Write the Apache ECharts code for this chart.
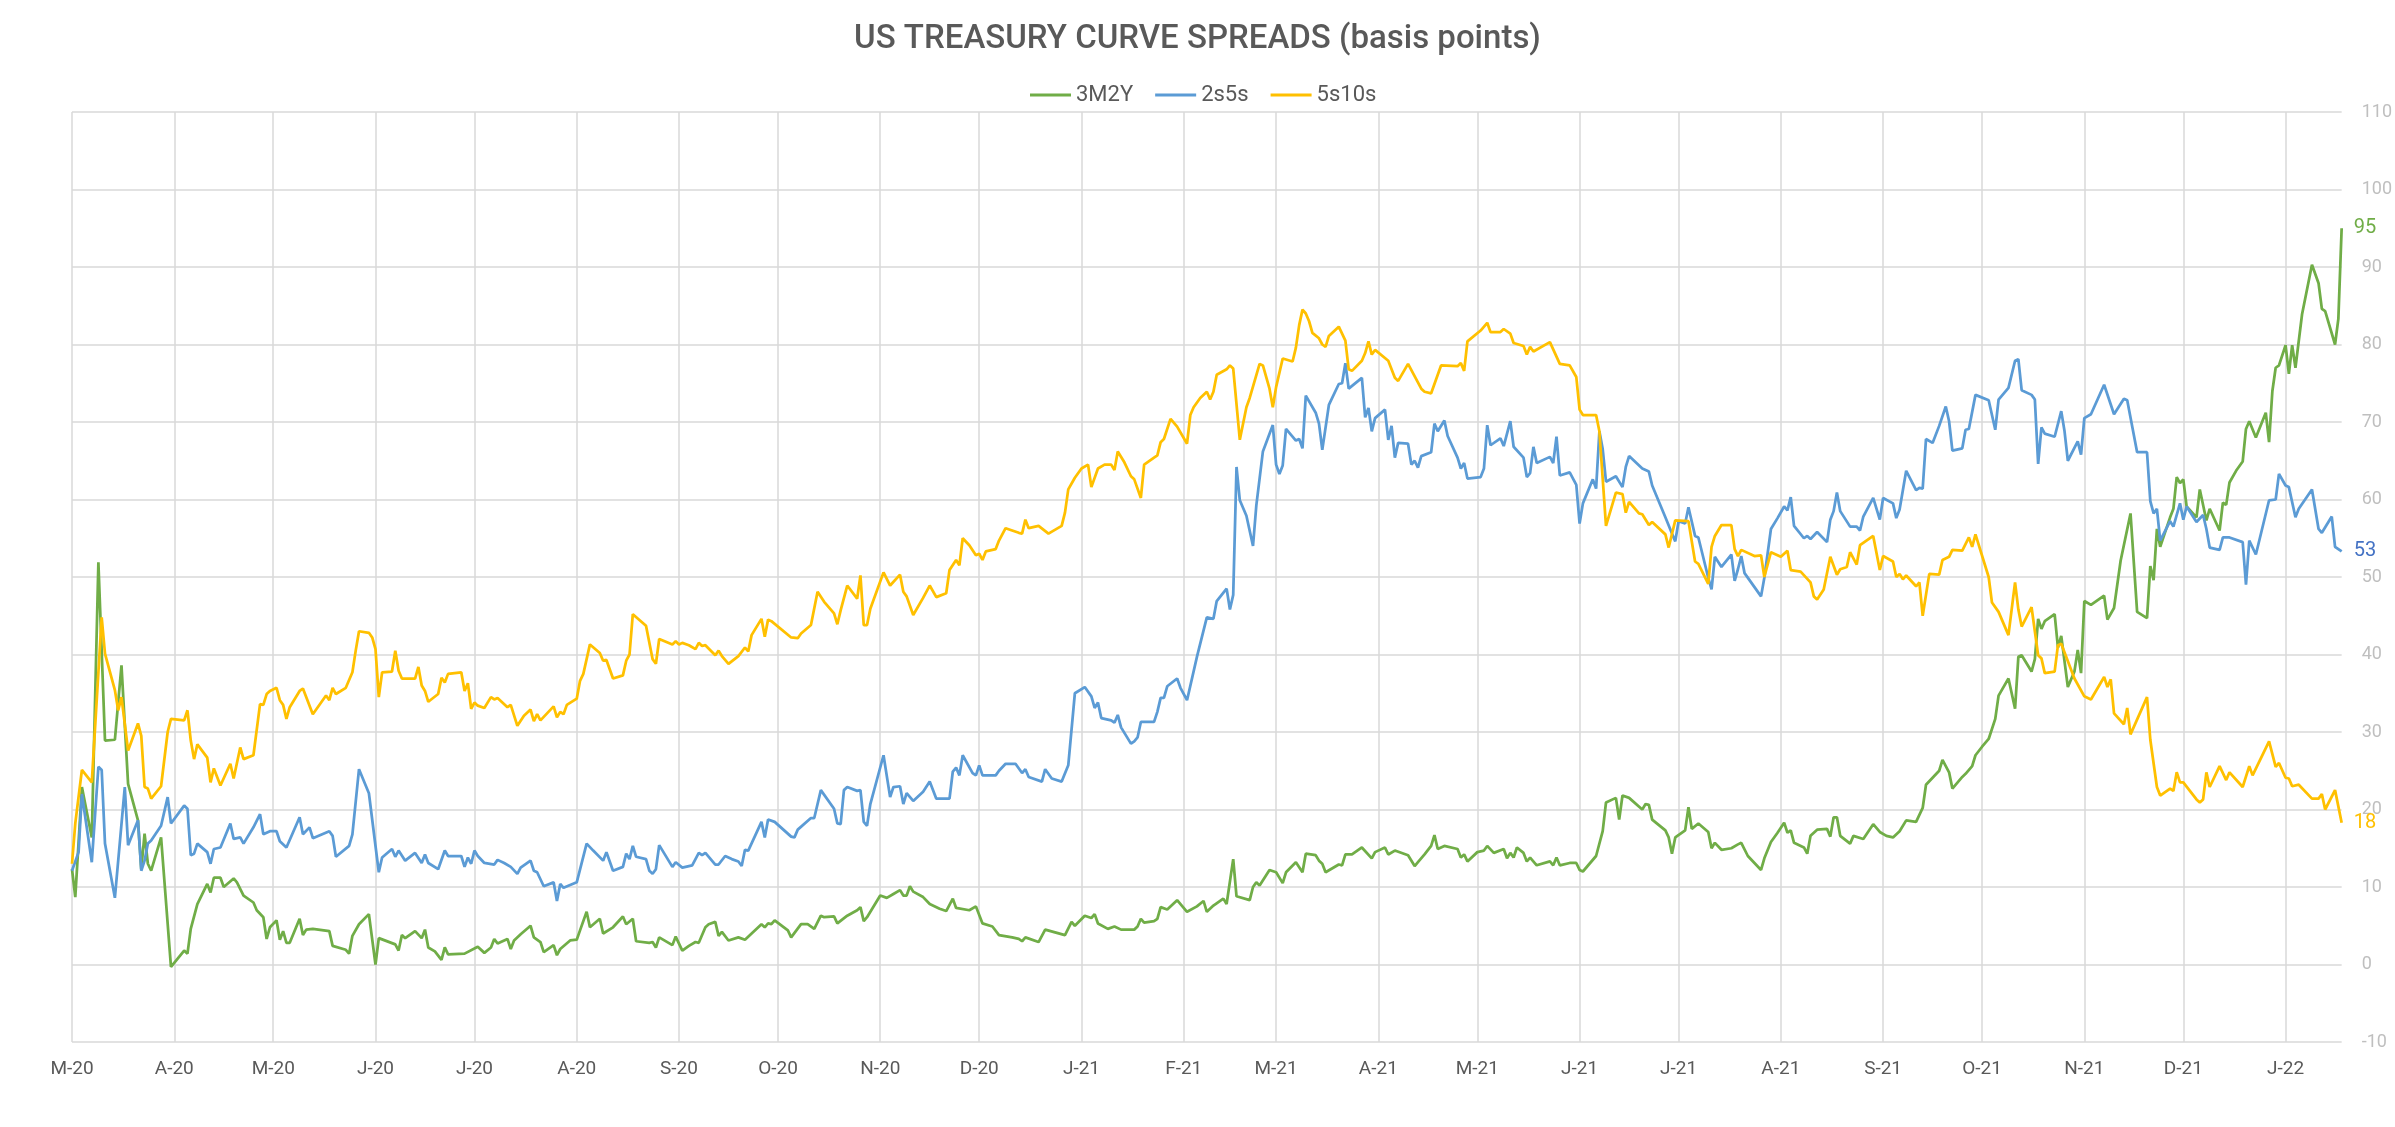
<!DOCTYPE html>
<html>
<head>
<meta charset="utf-8">
<script src="https://cdn.jsdelivr.net/npm/echarts@6/dist/echarts.min.js"></script>
<style>
html,body{margin:0;padding:0;background:#fff;}
#chart{width:2395px;height:1127px;}
</style>
</head>
<body>
<div id="chart"></div>
<script>
const axisStart = "2020-03-01";
const axisEnd = "2022-01-18";
const monthLetters = ["J","F","M","A","M","J","J","A","S","O","N","D"];
const yTicks = {min: -10, max: 110, interval: 10};
const seriesNames = ["3M2Y", "2s5s", "5s10s"];

const data3M2Y = [
["2020-03-01",12.3],["2020-03-02",8.7],["2020-03-04",22.9],["2020-03-07",16.4],["2020-03-09",51.9],["2020-03-11",28.9],["2020-03-14",29.0],["2020-03-16",38.6],["2020-03-18",23.3],["2020-03-21",18.6],["2020-03-22",12.3],["2020-03-23",16.9],["2020-03-24",13.0],["2020-03-25",12.1],["2020-03-28",16.4],["2020-03-31",-0.3],
["2020-04-04",1.8],["2020-04-05",1.4],["2020-04-06",4.6],["2020-04-08",7.8],["2020-04-11",10.4],["2020-04-12",9.3],["2020-04-13",11.2],["2020-04-15",11.2],["2020-04-16",10.0],["2020-04-19",11.1],["2020-04-20",10.6],["2020-04-22",8.9],["2020-04-25",8.0],["2020-04-26",7.0],["2020-04-28",6.1],["2020-04-29",3.3],["2020-04-30",4.8],
["2020-05-02",5.7],["2020-05-03",3.2],["2020-05-04",4.3],["2020-05-05",2.8],["2020-05-06",2.8],["2020-05-09",5.9],["2020-05-10",3.8],["2020-05-11",4.5],["2020-05-13",4.6],["2020-05-18",4.3],["2020-05-19",2.4],["2020-05-23",1.9],["2020-05-24",1.4],["2020-05-25",3.7],["2020-05-27",5.2],["2020-05-30",6.5],
["2020-06-01",0.0],["2020-06-02",3.4],["2020-06-07",2.6],["2020-06-08",1.8],["2020-06-09",3.8],["2020-06-10",3.4],["2020-06-13",4.3],["2020-06-15",3.4],["2020-06-16",4.5],["2020-06-17",2.2],["2020-06-19",1.7],["2020-06-21",0.6],["2020-06-22",2.2],["2020-06-23",1.3],["2020-06-28",1.4],
["2020-07-02",2.3],["2020-07-04",1.5],["2020-07-06",2.2],["2020-07-07",3.3],["2020-07-08",2.7],["2020-07-11",3.3],["2020-07-12",2.0],["2020-07-13",3.1],["2020-07-15",3.9],["2020-07-18",5.0],["2020-07-19",3.5],["2020-07-21",2.9],["2020-07-22",1.6],["2020-07-25",2.5],["2020-07-26",1.2],["2020-07-27",2.0],["2020-07-30",3.1],
["2020-08-01",3.2],["2020-08-02",4.4],["2020-08-04",6.8],["2020-08-05",4.8],["2020-08-08",5.9],["2020-08-09",4.0],["2020-08-12",4.8],["2020-08-15",6.2],["2020-08-16",5.2],["2020-08-18",5.9],["2020-08-19",3.0],["2020-08-23",2.8],["2020-08-24",2.9],["2020-08-25",2.2],["2020-08-26",3.5],["2020-08-30",2.5],["2020-08-31",3.6],
["2020-09-02",1.8],["2020-09-04",2.4],["2020-09-06",2.9],["2020-09-07",2.8],["2020-09-09",4.8],["2020-09-10",5.2],["2020-09-12",5.5],["2020-09-13",3.7],["2020-09-14",4.2],["2020-09-16",3.1],["2020-09-19",3.5],["2020-09-21",3.2],["2020-09-26",5.2],["2020-09-27",4.8],["2020-09-28",5.3],["2020-09-29",5.2],["2020-09-30",5.7],
["2020-10-04",4.4],["2020-10-05",3.5],["2020-10-08",5.2],["2020-10-10",5.2],["2020-10-12",4.6],["2020-10-14",6.3],["2020-10-15",6.1],["2020-10-18",6.2],["2020-10-19",5.3],["2020-10-22",6.3],["2020-10-25",7.0],["2020-10-26",7.4],["2020-10-27",5.6],["2020-10-28",6.1],
["2020-11-01",8.9],["2020-11-03",8.6],["2020-11-05",9.1],["2020-11-07",9.6],["2020-11-08",8.9],["2020-11-09",8.9],["2020-11-10",10.1],["2020-11-11",9.4],["2020-11-14",8.7],["2020-11-16",7.8],["2020-11-19",7.2],["2020-11-21",6.9],["2020-11-23",8.5],["2020-11-24",7.3],["2020-11-28",7.0],["2020-11-30",7.5],
["2020-12-02",5.3],["2020-12-05",4.9],["2020-12-07",3.8],["2020-12-11",3.5],["2020-12-13",3.3],["2020-12-14",3.0],["2020-12-15",3.5],["2020-12-19",2.9],["2020-12-21",4.5],["2020-12-27",3.8],["2020-12-29",5.5],["2020-12-30",5.0],
["2021-01-02",6.3],["2021-01-04",6.0],["2021-01-05",6.5],["2021-01-06",5.3],["2021-01-09",4.6],["2021-01-11",4.9],["2021-01-13",4.5],["2021-01-17",4.5],["2021-01-18",4.9],["2021-01-19",5.9],["2021-01-20",5.4],["2021-01-23",5.6],["2021-01-24",5.9],["2021-01-25",7.4],["2021-01-27",7.1],["2021-01-30",8.3],
["2021-02-02",6.8],["2021-02-05",7.5],["2021-02-07",8.2],["2021-02-08",6.8],["2021-02-10",7.6],["2021-02-13",8.5],["2021-02-14",7.8],["2021-02-16",13.6],["2021-02-17",8.8],["2021-02-21",8.3],["2021-02-22",10.0],["2021-02-23",10.6],["2021-02-24",10.2],["2021-02-27",12.2],
["2021-03-01",11.9],["2021-03-03",10.5],["2021-03-04",11.9],["2021-03-07",13.2],["2021-03-09",11.9],["2021-03-10",14.3],["2021-03-13",14.1],["2021-03-14",13.4],["2021-03-15",13.0],["2021-03-16",11.9],["2021-03-20",12.9],["2021-03-21",12.8],["2021-03-22",14.2],["2021-03-24",14.2],["2021-03-27",15.1],["2021-03-30",13.7],["2021-03-31",14.5],
["2021-04-03",15.1],["2021-04-04",14.2],["2021-04-06",14.7],["2021-04-10",14.1],["2021-04-12",12.7],["2021-04-13",13.2],["2021-04-15",14.2],["2021-04-17",15.3],["2021-04-18",16.7],["2021-04-19",14.9],["2021-04-21",15.3],["2021-04-25",14.9],["2021-04-26",13.8],["2021-04-27",14.2],["2021-04-28",13.3],
["2021-05-01",14.5],["2021-05-03",14.7],["2021-05-04",15.3],["2021-05-06",14.4],["2021-05-09",14.9],["2021-05-10",13.7],["2021-05-11",14.4],["2021-05-12",13.8],["2021-05-13",15.1],["2021-05-15",14.4],["2021-05-16",13.3],["2021-05-17",13.8],["2021-05-19",12.8],["2021-05-23",13.3],["2021-05-24",12.8],["2021-05-25",13.8],["2021-05-26",12.8],["2021-05-29",13.1],["2021-05-31",13.1],
["2021-06-01",12.2],["2021-06-02",12.0],["2021-06-06",14.0],["2021-06-08",17.2],["2021-06-09",20.9],["2021-06-12",21.5],["2021-06-13",18.7],["2021-06-14",21.8],["2021-06-16",21.5],["2021-06-20",20.0],["2021-06-21",20.7],["2021-06-22",20.6],["2021-06-23",18.7],["2021-06-27",17.3],["2021-06-28",16.4],["2021-06-29",14.3],["2021-06-30",16.4],
["2021-07-03",17.3],["2021-07-04",20.3],["2021-07-05",17.5],["2021-07-07",18.2],["2021-07-10",17.1],["2021-07-11",15.0],["2021-07-12",15.7],["2021-07-14",14.8],["2021-07-17",15.0],["2021-07-19",15.5],["2021-07-20",15.7],["2021-07-22",14.0],["2021-07-24",13.1],["2021-07-26",12.2],["2021-07-27",13.7],["2021-07-29",15.8],["2021-07-31",17.0],
["2021-08-02",18.3],["2021-08-03",17.0],["2021-08-04",17.3],["2021-08-05",15.7],["2021-08-08",15.1],["2021-08-09",14.3],["2021-08-10",16.6],["2021-08-12",17.4],["2021-08-15",17.5],["2021-08-16",16.5],["2021-08-17",19.0],["2021-08-18",19.0],["2021-08-19",16.6],["2021-08-22",15.6],["2021-08-23",16.6],["2021-08-26",16.2],["2021-08-29",18.1],["2021-08-31",17.1],
["2021-09-02",16.6],["2021-09-04",16.4],["2021-09-06",17.2],["2021-09-08",18.6],["2021-09-11",18.4],["2021-09-13",20.2],["2021-09-14",23.2],["2021-09-16",24.1],["2021-09-18",25.0],["2021-09-19",26.4],["2021-09-21",24.8],["2021-09-22",22.7],["2021-09-25",24.2],["2021-09-26",24.6],["2021-09-28",25.6],["2021-09-29",27.0],
["2021-10-01",28.1],["2021-10-03",29.1],["2021-10-05",31.7],["2021-10-06",34.7],["2021-10-09",36.9],["2021-10-11",33.0],["2021-10-12",39.7],["2021-10-13",39.9],["2021-10-16",37.8],["2021-10-17",39.4],["2021-10-18",44.6],["2021-10-19",43.3],["2021-10-20",44.3],["2021-10-23",45.2],["2021-10-24",40.9],["2021-10-25",42.4],["2021-10-27",35.8],["2021-10-29",37.8],["2021-10-30",40.6],["2021-10-31",37.6],
["2021-11-01",46.9],["2021-11-03",46.4],["2021-11-07",47.6],["2021-11-08",44.5],["2021-11-10",46.0],["2021-11-12",52.1],["2021-11-15",58.2],["2021-11-17",45.5],["2021-11-20",44.7],["2021-11-21",51.4],["2021-11-22",49.6],["2021-11-23",56.2],["2021-11-24",53.9],["2021-11-27",57.7],["2021-11-28",58.8],["2021-11-29",62.9],["2021-11-30",62.1],
["2021-12-01",62.6],["2021-12-02",59.1],["2021-12-05",57.7],["2021-12-06",61.3],["2021-12-08",57.3],["2021-12-09",58.8],["2021-12-12",56.0],["2021-12-13",59.6],["2021-12-14",59.3],["2021-12-15",62.2],["2021-12-17",63.7],["2021-12-19",64.9],["2021-12-20",69.1],["2021-12-21",70.1],["2021-12-23",68.0],["2021-12-26",71.2],["2021-12-27",67.4],["2021-12-28",74.0],["2021-12-29",77.0],["2021-12-30",77.3],
["2022-01-01",79.9],["2022-01-02",76.2],["2022-01-03",79.9],["2022-01-04",77.0],["2022-01-06",83.9],["2022-01-09",90.3],["2022-01-11",87.9],["2022-01-12",84.6],["2022-01-13",84.3],["2022-01-16",80.0],["2022-01-17",83.3],["2022-01-18",95.0]
];

const data2s5s = [
["2020-03-01",12.1],["2020-03-03",14.5],["2020-03-04",22.0],["2020-03-07",13.2],["2020-03-09",25.5],["2020-03-10",25.1],["2020-03-11",15.6],["2020-03-14",8.6],["2020-03-17",22.9],["2020-03-18",15.4],["2020-03-21",18.6],["2020-03-22",12.1],["2020-03-23",13.4],["2020-03-24",15.6],["2020-03-25",16.0],["2020-03-28",17.9],["2020-03-30",21.6],["2020-03-31",18.2],
["2020-04-04",20.5],["2020-04-05",20.1],["2020-04-06",14.1],["2020-04-07",14.3],["2020-04-08",15.6],["2020-04-11",14.5],["2020-04-12",13.0],["2020-04-13",14.9],["2020-04-15",15.1],["2020-04-18",18.2],["2020-04-19",16.2],["2020-04-21",16.4],["2020-04-22",15.6],["2020-04-25",17.7],["2020-04-27",19.4],["2020-04-28",16.8],["2020-04-30",17.2],
["2020-05-02",17.2],["2020-05-03",15.9],["2020-05-05",15.1],["2020-05-09",19.0],["2020-05-10",16.8],["2020-05-12",17.7],["2020-05-13",16.3],["2020-05-18",17.2],["2020-05-19",16.6],["2020-05-20",13.9],["2020-05-24",15.3],["2020-05-25",16.8],["2020-05-27",25.2],["2020-05-30",22.1],
["2020-06-02",11.9],["2020-06-03",13.8],["2020-06-06",14.9],["2020-06-07",13.9],["2020-06-08",14.7],["2020-06-10",13.4],["2020-06-13",14.4],["2020-06-15",13.1],["2020-06-16",14.2],["2020-06-17",13.1],["2020-06-20",12.3],["2020-06-22",14.7],["2020-06-23",14.0],["2020-06-27",14.0],["2020-06-28",12.6],["2020-06-29",13.8],["2020-06-30",13.0],
["2020-07-01",14.7],["2020-07-02",14.0],["2020-07-04",13.1],["2020-07-07",12.9],["2020-07-08",13.5],["2020-07-10",13.1],["2020-07-12",12.6],["2020-07-14",11.7],["2020-07-15",12.5],["2020-07-18",13.4],["2020-07-19",12.1],["2020-07-20",11.9],["2020-07-22",10.1],["2020-07-25",10.6],["2020-07-26",8.2],["2020-07-27",10.4],["2020-07-28",9.9],
["2020-08-01",10.6],["2020-08-04",15.6],["2020-08-06",14.7],["2020-08-09",13.4],["2020-08-10",14.5],["2020-08-12",12.1],["2020-08-15",12.6],["2020-08-16",14.3],["2020-08-17",13.6],["2020-08-18",15.3],["2020-08-19",13.9],["2020-08-22",13.6],["2020-08-23",12.1],["2020-08-24",11.7],["2020-08-25",12.3],["2020-08-26",15.4],["2020-08-30",12.6],["2020-08-31",13.2],
["2020-09-02",12.5],["2020-09-04",12.7],["2020-09-05",12.8],["2020-09-07",14.4],["2020-09-08",14.1],["2020-09-09",14.4],["2020-09-12",12.9],["2020-09-13",12.9],["2020-09-15",14.0],["2020-09-17",13.6],["2020-09-19",13.3],["2020-09-20",12.7],["2020-09-21",14.8],["2020-09-22",14.7],["2020-09-26",18.4],["2020-09-27",16.4],["2020-09-28",18.7],["2020-09-30",18.4],
["2020-10-05",16.5],["2020-10-06",16.4],["2020-10-07",17.4],["2020-10-11",18.9],["2020-10-12",18.9],["2020-10-14",22.5],["2020-10-18",20.1],["2020-10-19",18.2],["2020-10-20",18.1],["2020-10-21",22.5],["2020-10-22",22.9],["2020-10-25",22.4],["2020-10-26",22.5],["2020-10-27",18.4],["2020-10-28",17.9],["2020-10-29",20.7],
["2020-11-02",27.0],["2020-11-04",21.6],["2020-11-05",22.9],["2020-11-07",23.0],["2020-11-08",20.7],["2020-11-09",22.1],["2020-11-11",21.1],["2020-11-14",22.3],["2020-11-16",23.6],["2020-11-18",21.4],["2020-11-22",21.4],["2020-11-23",24.9],["2020-11-24",25.4],["2020-11-25",24.4],["2020-11-26",27.0],["2020-11-29",24.7],["2020-11-30",24.4],
["2020-12-01",25.7],["2020-12-02",24.4],["2020-12-06",24.4],["2020-12-07",25.0],["2020-12-09",25.9],["2020-12-12",25.9],["2020-12-14",24.7],["2020-12-15",25.2],["2020-12-16",24.2],["2020-12-20",23.6],["2020-12-21",25.2],["2020-12-23",24.0],["2020-12-26",23.6],["2020-12-28",25.7],["2020-12-30",35.0],
["2021-01-02",35.8],["2021-01-04",34.6],["2021-01-05",33.1],["2021-01-06",33.8],["2021-01-07",31.8],["2021-01-10",31.5],["2021-01-11",31.2],["2021-01-12",32.2],["2021-01-13",30.6],["2021-01-16",28.5],["2021-01-17",28.8],["2021-01-18",29.3],["2021-01-19",31.3],["2021-01-23",31.3],["2021-01-24",32.6],["2021-01-25",34.4],["2021-01-26",34.4],["2021-01-27",35.9],["2021-01-30",36.9],["2021-01-31",35.7],
["2021-02-02",34.1],["2021-02-05",39.7],["2021-02-08",44.8],["2021-02-10",44.6],["2021-02-11",46.9],["2021-02-14",48.5],["2021-02-15",45.8],["2021-02-16",47.7],["2021-02-17",64.2],["2021-02-18",59.9],["2021-02-20",57.9],["2021-02-22",54.0],["2021-02-23",59.2],["2021-02-25",66.2],["2021-02-28",69.6],
["2021-03-01",64.5],["2021-03-02",63.3],["2021-03-03",64.4],["2021-03-04",69.1],["2021-03-07",67.6],["2021-03-08",67.8],["2021-03-09",66.6],["2021-03-10",73.4],["2021-03-13",71.2],["2021-03-14",69.8],["2021-03-15",66.4],["2021-03-17",72.2],["2021-03-20",74.9],["2021-03-21",75.0],["2021-03-22",77.6],["2021-03-23",74.3],["2021-03-27",75.7],["2021-03-28",70.6],["2021-03-29",71.8],["2021-03-30",68.8],["2021-03-31",70.5],
["2021-04-03",71.6],["2021-04-04",67.7],["2021-04-05",69.5],["2021-04-06",65.4],["2021-04-07",67.3],["2021-04-10",67.2],["2021-04-11",64.5],["2021-04-12",65.0],["2021-04-13",64.1],["2021-04-14",65.6],["2021-04-17",66.1],["2021-04-18",69.8],["2021-04-19",68.8],["2021-04-21",70.2],["2021-04-22",68.2],["2021-04-25",65.4],["2021-04-26",64.0],["2021-04-27",64.7],["2021-04-28",62.7],
["2021-05-02",62.9],["2021-05-03",64.0],["2021-05-04",69.6],["2021-05-05",67.0],["2021-05-08",67.9],["2021-05-09",66.9],["2021-05-11",70.1],["2021-05-12",66.8],["2021-05-15",65.4],["2021-05-16",62.9],["2021-05-17",63.4],["2021-05-18",66.8],["2021-05-19",64.7],["2021-05-23",65.5],["2021-05-24",64.7],["2021-05-25",68.1],["2021-05-26",63.1],["2021-05-29",63.5],["2021-05-31",61.9],
["2021-06-01",56.9],["2021-06-02",59.5],["2021-06-05",62.6],["2021-06-06",61.4],["2021-06-07",68.8],["2021-06-08",66.5],["2021-06-09",62.3],["2021-06-12",63.0],["2021-06-14",61.6],["2021-06-15",64.2],["2021-06-16",65.6],["2021-06-20",64.0],["2021-06-22",63.6],["2021-06-23",61.8],["2021-06-27",57.7],["2021-06-29",55.6],["2021-06-30",54.6],
["2021-07-01",57.2],["2021-07-03",56.9],["2021-07-04",59.0],["2021-07-06",55.3],["2021-07-07",55.1],["2021-07-10",49.9],["2021-07-11",48.4],["2021-07-12",52.6],["2021-07-14",51.3],["2021-07-17",52.9],["2021-07-18",49.5],["2021-07-19",51.0],["2021-07-20",52.7],["2021-07-21",50.5],["2021-07-26",47.5],["2021-07-27",49.9],["2021-07-29",56.2],["2021-07-31",57.6],
["2021-08-02",59.1],["2021-08-03",58.6],["2021-08-04",60.3],["2021-08-05",56.6],["2021-08-08",55.0],["2021-08-09",55.3],["2021-08-10",54.9],["2021-08-12",55.8],["2021-08-15",54.5],["2021-08-16",57.4],["2021-08-17",58.5],["2021-08-18",60.9],["2021-08-19",58.5],["2021-08-22",56.5],["2021-08-24",56.5],["2021-08-25",56.0],["2021-08-26",57.8],["2021-08-29",60.2],["2021-08-31",57.4],
["2021-09-01",60.2],["2021-09-04",59.5],["2021-09-05",57.6],["2021-09-06",58.7],["2021-09-08",63.7],["2021-09-11",61.2],["2021-09-12",61.5],["2021-09-13",61.4],["2021-09-14",67.8],["2021-09-16",67.3],["2021-09-18",69.5],["2021-09-20",72.0],["2021-09-21",70.1],["2021-09-22",66.3],["2021-09-25",66.6],["2021-09-26",69.0],["2021-09-27",69.1],["2021-09-29",73.5],
["2021-10-03",72.8],["2021-10-05",69.0],["2021-10-06",72.9],["2021-10-09",74.4],["2021-10-11",77.9],["2021-10-12",78.1],["2021-10-13",74.1],["2021-10-16",73.5],["2021-10-17",72.9],["2021-10-18",64.6],["2021-10-19",69.3],["2021-10-20",68.5],["2021-10-23",68.1],["2021-10-25",71.4],["2021-10-26",68.8],["2021-10-27",65.0],["2021-10-30",67.5],["2021-10-31",65.8],
["2021-11-01",70.5],["2021-11-03",71.0],["2021-11-07",74.8],["2021-11-10",71.0],["2021-11-13",73.0],["2021-11-14",72.8],["2021-11-17",66.1],["2021-11-20",66.1],["2021-11-21",59.8],["2021-11-22",58.2],["2021-11-23",58.8],["2021-11-24",54.7],["2021-11-27",57.2],["2021-11-28",56.5],["2021-11-30",59.5],
["2021-12-01",57.4],["2021-12-02",59.1],["2021-12-05",57.1],["2021-12-07",58.0],["2021-12-08",56.2],["2021-12-09",53.8],["2021-12-12",53.5],["2021-12-13",55.1],["2021-12-15",55.1],["2021-12-19",54.5],["2021-12-20",49.0],["2021-12-21",54.7],["2021-12-23",52.9],["2021-12-27",59.9],["2021-12-29",60.0],["2021-12-30",63.3],
["2022-01-01",61.8],["2022-01-02",61.6],["2022-01-04",57.7],["2022-01-05",58.8],["2022-01-09",61.3],["2022-01-11",56.2],["2022-01-12",55.7],["2022-01-15",57.8],["2022-01-16",53.9],["2022-01-18",53.3]
];

const data5s10s = [
["2020-03-01",13.0],["2020-03-02",18.2],["2020-03-04",25.1],["2020-03-07",23.5],["2020-03-10",44.8],["2020-03-11",40.1],["2020-03-14",35.4],["2020-03-15",32.8],["2020-03-16",34.5],["2020-03-18",27.6],["2020-03-21",31.1],["2020-03-22",29.5],["2020-03-23",22.9],["2020-03-24",22.7],["2020-03-25",21.4],["2020-03-28",23.0],["2020-03-30",30.0],["2020-03-31",31.7],
["2020-04-04",31.5],["2020-04-05",32.8],["2020-04-06",28.9],["2020-04-07",26.5],["2020-04-08",28.4],["2020-04-11",26.7],["2020-04-12",23.5],["2020-04-13",25.3],["2020-04-15",23.1],["2020-04-18",25.9],["2020-04-19",24.0],["2020-04-21",28.0],["2020-04-22",26.5],["2020-04-25",27.0],["2020-04-27",33.6],["2020-04-28",33.5],["2020-04-29",34.9],["2020-04-30",35.3],
["2020-05-02",35.7],["2020-05-03",34.1],["2020-05-04",33.5],["2020-05-05",31.7],["2020-05-06",33.2],["2020-05-09",35.3],["2020-05-10",35.6],["2020-05-13",32.3],["2020-05-17",34.7],["2020-05-18",34.1],["2020-05-19",35.7],["2020-05-20",34.9],["2020-05-23",35.7],["2020-05-25",37.7],["2020-05-26",40.5],["2020-05-27",43.0],["2020-05-30",42.8],["2020-05-31",42.2],
["2020-06-01",40.7],["2020-06-02",34.5],["2020-06-03",37.7],["2020-06-06",37.8],["2020-06-07",40.5],["2020-06-08",37.9],["2020-06-09",36.9],["2020-06-13",36.9],["2020-06-14",38.4],["2020-06-15",36.0],["2020-06-16",35.3],["2020-06-17",33.9],["2020-06-20",34.9],["2020-06-21",37.0],["2020-06-22",36.4],["2020-06-23",37.5],["2020-06-27",37.7],["2020-06-28",35.3],["2020-06-29",36.3],["2020-06-30",33.0],
["2020-07-01",33.8],["2020-07-02",33.4],["2020-07-04",33.1],["2020-07-06",34.5],["2020-07-07",34.2],["2020-07-08",34.4],["2020-07-11",33.2],["2020-07-12",33.5],["2020-07-14",30.8],["2020-07-16",32.1],["2020-07-18",32.9],["2020-07-19",31.4],["2020-07-20",32.3],["2020-07-21",31.5],["2020-07-23",32.4],["2020-07-25",33.3],["2020-07-26",31.9],["2020-07-27",32.6],["2020-07-28",32.3],["2020-07-29",33.5],
["2020-08-01",34.3],["2020-08-02",36.6],["2020-08-03",37.5],["2020-08-05",41.3],["2020-08-08",40.2],["2020-08-09",39.2],["2020-08-10",39.3],["2020-08-12",36.9],["2020-08-15",37.3],["2020-08-16",39.2],["2020-08-17",40.0],["2020-08-18",45.2],["2020-08-22",43.7],["2020-08-24",39.4],["2020-08-25",38.8],["2020-08-26",42.0],["2020-08-30",41.3],["2020-08-31",41.7],
["2020-09-01",41.3],["2020-09-02",41.5],["2020-09-04",41.2],["2020-09-06",40.7],["2020-09-07",41.5],["2020-09-08",41.1],["2020-09-09",41.2],["2020-09-12",39.9],["2020-09-13",40.5],["2020-09-14",39.8],["2020-09-16",38.8],["2020-09-19",39.8],["2020-09-21",40.9],["2020-09-22",40.4],["2020-09-23",42.5],["2020-09-26",44.6],["2020-09-27",42.3],["2020-09-28",44.5],["2020-09-29",44.3],
["2020-10-05",42.2],["2020-10-07",42.1],["2020-10-08",42.7],["2020-10-11",43.8],["2020-10-13",48.1],["2020-10-15",46.8],["2020-10-18",45.3],["2020-10-19",43.9],["2020-10-20",45.7],["2020-10-22",48.9],["2020-10-25",47.2],["2020-10-26",50.2],["2020-10-27",43.8],["2020-10-28",43.8],["2020-10-29",45.9],
["2020-11-02",50.6],["2020-11-04",48.9],["2020-11-07",50.3],["2020-11-08",48.1],["2020-11-09",47.5],["2020-11-11",45.1],["2020-11-14",47.3],["2020-11-16",48.9],["2020-11-18",47.4],["2020-11-21",47.9],["2020-11-22",50.9],["2020-11-24",52.2],["2020-11-25",51.5],["2020-11-26",55.0],["2020-11-28",54.1],["2020-11-30",52.8],
["2020-12-01",53.0],["2020-12-02",52.2],["2020-12-03",53.3],["2020-12-06",53.6],["2020-12-07",54.7],["2020-12-09",56.3],["2020-12-13",55.7],["2020-12-14",55.6],["2020-12-15",57.4],["2020-12-16",56.3],["2020-12-19",56.6],["2020-12-22",55.6],["2020-12-26",56.6],["2020-12-27",58.3],["2020-12-28",61.3],["2020-12-30",62.8],
["2021-01-01",64.0],["2021-01-03",64.5],["2021-01-04",61.6],["2021-01-06",64.0],["2021-01-08",64.5],["2021-01-10",64.5],["2021-01-11",63.8],["2021-01-12",66.2],["2021-01-14",64.8],["2021-01-16",63.0],["2021-01-17",62.6],["2021-01-19",60.2],["2021-01-20",64.5],["2021-01-23",65.4],["2021-01-24",65.7],["2021-01-25",67.4],["2021-01-26",67.8],["2021-01-28",70.4],["2021-01-30",69.4],
["2021-02-02",67.2],["2021-02-03",70.9],["2021-02-04",71.9],["2021-02-06",73.1],["2021-02-08",73.9],["2021-02-09",72.9],["2021-02-10",73.9],["2021-02-11",76.1],["2021-02-14",76.8],["2021-02-15",77.3],["2021-02-16",76.9],["2021-02-18",67.7],["2021-02-20",71.9],["2021-02-21",73.1],["2021-02-24",77.5],["2021-02-25",77.3],["2021-02-27",74.3],["2021-02-28",71.9],
["2021-03-01",74.5],["2021-03-03",78.2],["2021-03-06",77.8],["2021-03-07",79.6],["2021-03-08",82.5],["2021-03-09",84.5],["2021-03-10",84.0],["2021-03-11",83.0],["2021-03-12",81.5],["2021-03-14",80.8],["2021-03-15",80.0],["2021-03-16",79.7],["2021-03-17",81.1],["2021-03-20",82.3],["2021-03-22",80.5],["2021-03-23",76.8],["2021-03-24",76.6],["2021-03-27",77.9],["2021-03-28",78.9],["2021-03-29",80.4],["2021-03-30",78.7],["2021-03-31",79.3],
["2021-04-04",77.9],["2021-04-06",75.7],["2021-04-07",75.3],["2021-04-10",77.5],["2021-04-14",74.3],["2021-04-15",73.9],["2021-04-17",73.7],["2021-04-20",77.3],["2021-04-25",77.2],["2021-04-26",77.6],["2021-04-27",76.6],["2021-04-28",80.4],
["2021-05-02",81.8],["2021-05-04",82.8],["2021-05-05",81.6],["2021-05-08",81.6],["2021-05-09",82.0],["2021-05-11",81.4],["2021-05-12",80.2],["2021-05-15",79.8],["2021-05-16",78.7],["2021-05-17",79.7],["2021-05-18",79.1],["2021-05-23",80.3],["2021-05-26",77.5],["2021-05-29",77.3],["2021-05-31",75.8],
["2021-06-01",71.6],["2021-06-02",70.9],["2021-06-06",70.9],["2021-06-07",68.8],["2021-06-09",56.6],["2021-06-12",60.9],["2021-06-14",60.7],["2021-06-15",58.3],["2021-06-16",59.7],["2021-06-19",58.2],["2021-06-20",58.1],["2021-06-22",56.7],["2021-06-23",57.1],["2021-06-27",55.5],["2021-06-28",53.8],["2021-06-30",57.3],
["2021-07-04",57.2],["2021-07-06",52.0],["2021-07-07",51.7],["2021-07-10",49.1],["2021-07-11",53.9],["2021-07-12",55.3],["2021-07-14",56.7],["2021-07-17",56.7],["2021-07-18",53.6],["2021-07-19",52.7],["2021-07-20",53.5],["2021-07-24",52.7],["2021-07-26",52.8],["2021-07-27",50.0],["2021-07-29",53.2],
["2021-08-01",52.6],["2021-08-03",53.4],["2021-08-04",50.9],["2021-08-07",50.7],["2021-08-10",49.3],["2021-08-11",47.5],["2021-08-12",47.1],["2021-08-14",48.4],["2021-08-16",52.6],["2021-08-18",50.3],["2021-08-19",51.0],["2021-08-21",51.3],["2021-08-22",53.2],["2021-08-24",51.6],["2021-08-25",54.1],["2021-08-29",55.3],["2021-08-31",50.9],
["2021-09-01",52.7],["2021-09-04",52.0],["2021-09-05",50.0],["2021-09-06",50.4],["2021-09-07",49.7],["2021-09-08",50.2],["2021-09-11",48.8],["2021-09-12",49.3],["2021-09-13",45.0],["2021-09-15",50.4],["2021-09-18",50.3],["2021-09-19",52.2],["2021-09-21",52.6],["2021-09-22",53.5],["2021-09-25",53.4],["2021-09-27",55.1],["2021-09-28",53.9],["2021-09-29",55.5],
["2021-10-03",50.0],["2021-10-04",46.7],["2021-10-06",45.5],["2021-10-09",42.5],["2021-10-11",49.3],["2021-10-12",45.8],["2021-10-13",43.6],["2021-10-16",46.1],["2021-10-18",39.9],["2021-10-19",39.5],["2021-10-20",37.6],["2021-10-23",37.8],["2021-10-24",41.2],["2021-10-25",41.4],["2021-10-29",36.9],
["2021-11-01",34.6],["2021-11-03",34.2],["2021-11-07",37.1],["2021-11-08",35.8],["2021-11-09",36.8],["2021-11-10",32.4],["2021-11-13",31.0],["2021-11-14",33.1],["2021-11-15",29.7],["2021-11-20",34.5],["2021-11-21",29.0],["2021-11-23",22.9],["2021-11-24",21.8],["2021-11-27",22.7],["2021-11-28",22.4],["2021-11-29",24.8],["2021-11-30",23.5],
["2021-12-01",23.5],["2021-12-05",21.3],["2021-12-06",20.9],["2021-12-07",21.3],["2021-12-08",24.8],["2021-12-09",22.9],["2021-12-12",25.6],["2021-12-14",23.8],["2021-12-15",24.8],["2021-12-19",22.9],["2021-12-21",25.6],["2021-12-22",24.4],["2021-12-27",28.8],["2021-12-29",25.5],["2021-12-30",26.0],
["2022-01-01",24.1],["2022-01-02",24.0],["2022-01-03",23.0],["2022-01-05",23.2],["2022-01-09",21.4],["2022-01-11",21.4],["2022-01-12",22.0],["2022-01-13",20.0],["2022-01-16",22.5],["2022-01-18",18.3]
];

const seriesColors = ["#70AD47", "#5B9BD5", "#FFC000"];
const endLabelColors = ["#70AD47", "#4472C4", "#FFC000"];

// calendar-day categories for the date axis
function buildDays(start, end) {
  const out = [];
  let t = Date.parse(start + "T00:00:00Z");
  const e = Date.parse(end + "T00:00:00Z");
  while (t <= e) { out.push(new Date(t).toISOString().slice(0, 10)); t += 86400000; }
  return out;
}
const categories = buildDays(axisStart, axisEnd);
const catIndex = {};
categories.forEach((c, i) => { catIndex[c] = i; });
function toSeries(arr) {
  return arr.map(p => [catIndex[p[0]], p[1]]).filter(p => p[0] !== undefined).sort((a, b) => a[0] - b[0]);
}
const isMonthStart = (i, v) => v.slice(8) === "01";
const FONT = "Roboto, 'DejaVu Sans', sans-serif";

const chart = echarts.init(document.getElementById("chart"), null, {renderer: "canvas"});
const allData = [data3M2Y, data2s5s, data5s10s];
chart.setOption({
  animation: false,
  backgroundColor: "#ffffff",
  title: {
    text: "US TREASURY CURVE SPREADS (basis points)",
    left: "center",
    top: 18,
    textStyle: {fontFamily: FONT, fontSize: 33, fontWeight: 500, color: "#595959"}
  },
  legend: {
    data: seriesNames,
    left: 1025,
    top: 79,
    icon: "rect",
    itemWidth: 41,
    itemHeight: 3,
    itemGap: 22,
    textStyle: {fontFamily: FONT, fontSize: 22, color: "#595959", padding: [0, 0, 0, 0]}
  },
  grid: {left: 72, right: 52, top: 112, bottom: 85, containLabel: false},
  xAxis: {
    type: "category",
    data: categories,
    boundaryGap: false,
    axisLine: {show: false},
    axisTick: {show: false},
    axisLabel: {
      interval: isMonthStart,
      margin: 18,
      fontFamily: FONT,
      fontSize: 19,
      color: "#595959",
      formatter: v => monthLetters[parseInt(v.slice(5, 7), 10) - 1] + "-" + v.slice(2, 4)
    },
    splitLine: {show: true, interval: isMonthStart, lineStyle: {color: "#d9d9d9", width: 1.5}}
  },
  yAxis: {
    type: "value",
    position: "right",
    min: yTicks.min,
    max: yTicks.max,
    interval: yTicks.interval,
    axisLine: {show: false},
    axisTick: {show: false},
    axisLabel: {margin: 20, fontFamily: FONT, fontSize: 18, color: "#bfbfbf"},
    splitLine: {show: true, lineStyle: {color: "#d9d9d9", width: 1.5}}
  },
  series: seriesNames.map((name, k) => ({
    name: name,
    type: "line",
    data: toSeries(allData[k]),
    showSymbol: false,
    symbol: "none",
    color: seriesColors[k],
    lineStyle: {width: 2.75, color: seriesColors[k]},
    endLabel: {
      show: true,
      distance: 12,
      fontFamily: FONT,
      fontSize: 20,
      color: endLabelColors[k],
      formatter: p => String(Math.round(p.value[1]))
    }
  }))
});
</script>
</body>
</html>
